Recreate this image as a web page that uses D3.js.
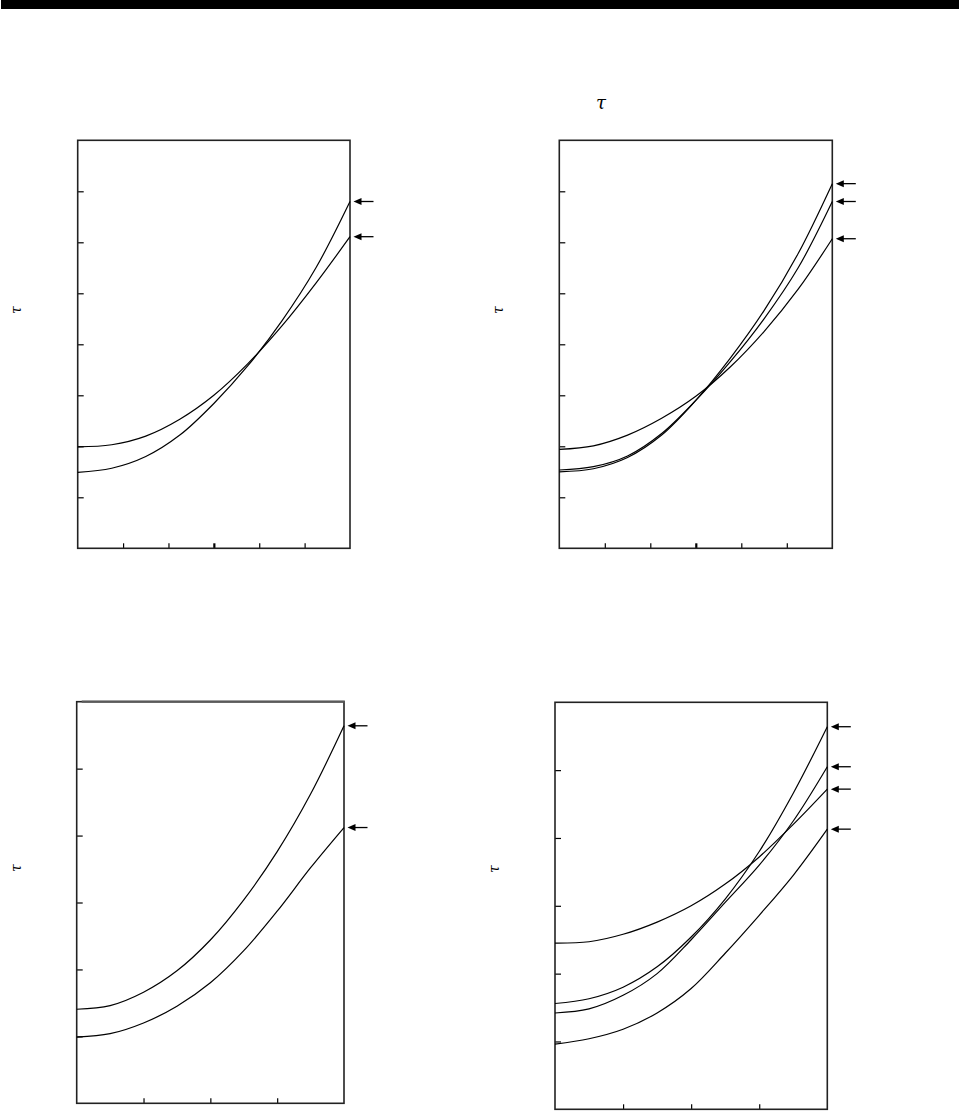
<!DOCTYPE html>
<html>
<head>
<meta charset="utf-8">
<script src="https://cdn.jsdelivr.net/npm/d3@7"></script>
<style>
  html, body { margin: 0; padding: 0; background: #fff; }
  svg { display: block; }
</style>
</head>
<body>
<svg id="chart" width="959" height="1111"></svg>
<script>
// ---------------- DATA ----------------
// Top panels: x domain 0..6, y domain 0..8
const topX = [0, 0.75, 1.5, 2.25, 3, 3.75, 4.5, 5.25, 6];
const p1A = [1.99, 2.03, 2.20, 2.53, 3.00, 3.62, 4.36, 5.20, 6.11];
const p1B = [1.49, 1.57, 1.80, 2.22, 2.84, 3.58, 4.46, 5.50, 6.80];
const p2C = [1.94, 2.01, 2.22, 2.55, 2.98, 3.55, 4.25, 5.08, 6.07];
const p2D = [1.535, 1.60, 1.81, 2.25, 2.90, 3.65, 4.50, 5.50, 6.80];
const p2E = [1.50, 1.56, 1.78, 2.22, 2.90, 3.72, 4.66, 5.78, 7.15];
// Bottom panels: x domain 0..4, y domain 0..6
const botX = [0, 0.5, 1, 1.5, 2, 2.5, 3, 3.5, 4];
const p3F = [1.405, 1.46, 1.66, 1.98, 2.44, 3.04, 3.76, 4.62, 5.64];
const p3G = [0.99, 1.04, 1.20, 1.45, 1.80, 2.28, 2.87, 3.52, 4.12];
const p4H = [2.45, 2.47, 2.58, 2.76, 3.00, 3.32, 3.72, 4.20, 4.72];
const p4I = [1.56, 1.63, 1.80, 2.10, 2.54, 3.10, 3.80, 4.66, 5.64];
const p4J = [1.42, 1.48, 1.68, 2.00, 2.50, 3.05, 3.60, 4.25, 5.05];
const p4K = [0.96, 1.04, 1.18, 1.42, 1.78, 2.30, 2.86, 3.45, 4.13];

const topXTicks = [1, 2, 3, 4, 5];
const topYTicks = [1, 2, 3, 4, 5, 6, 7];
const botXTicks = [1, 2, 3];
const botYTicks = [1, 2, 3, 4, 5];

const yLabel = "τ";
const titleLabel = "τ";

// ---------------- LAYOUT ----------------
const panels = [
  { x0: 77.7, x1: 350, y0: 140.3, y1: 548.3, xd: [0, 6], yd: [0, 8], xs: topX,
    series: [p1A, p1B], xt: topXTicks, yt: topYTicks, midTick: 3, label: [16, 310] },
  { x0: 559.3, x1: 832.3, y0: 140.3, y1: 548.3, xd: [0, 6], yd: [0, 8], xs: topX,
    series: [p2C, p2D, p2E], xt: topXTicks, yt: topYTicks, midTick: 3, label: [498, 310] },
  { x0: 76.7, x1: 344, y0: 701.7, y1: 1103.3, xd: [0, 4], yd: [0, 6], xs: botX,
    series: [p3F, p3G], xt: botXTicks, yt: botYTicks, midTick: null, label: [16, 868], grayTop: true },
  { x0: 555, x1: 827.3, y0: 702.3, y1: 1109.3, xd: [0, 4], yd: [0, 6], xs: botX,
    series: [p4H, p4I, p4J, p4K], xt: botXTicks, yt: botYTicks, midTick: null, label: [494, 869] }
];

const svg = d3.select("#chart");

// top black bar
svg.append("rect").attr("x", 1).attr("y", 0).attr("width", 958).attr("height", 9).attr("fill", "#000");

// title tau
svg.append("text")
  .attr("x", 601).attr("y", 109)
  .attr("text-anchor", "middle")
  .attr("font-family", "'DejaVu Serif', 'Liberation Serif', serif")
  .attr("font-style", "italic")
  .attr("font-size", 18)
  .text(titleLabel);

panels.forEach(p => {
  const x = d3.scaleLinear().domain(p.xd).range([p.x0, p.x1]);
  const y = d3.scaleLinear().domain(p.yd).range([p.y1, p.y0]);
  const g = svg.append("g");

  // y axis ticks (inward)
  const ya = g.append("g").attr("transform", `translate(${p.x0},0)`)
    .call(d3.axisLeft(y).tickValues(p.yt).tickSize(-6).tickFormat(""));
  ya.select(".domain").remove();
  ya.selectAll(".tick line").attr("stroke", "#000").attr("stroke-width", 1.2);

  // x axis ticks (inward)
  const xa = g.append("g").attr("transform", `translate(0,${p.y1})`)
    .call(d3.axisBottom(x).tickValues(p.xt).tickSize(-5).tickFormat(""));
  xa.select(".domain").remove();
  xa.selectAll(".tick line").attr("stroke", "#000")
    .attr("stroke-width", d => d === p.midTick ? 2.2 : 1.2);

  // frame
  g.append("rect")
    .attr("x", p.x0).attr("y", p.y0)
    .attr("width", p.x1 - p.x0).attr("height", p.y1 - p.y0)
    .attr("fill", "none").attr("stroke", "#222").attr("stroke-width", 1.6);
  if (p.grayTop) {
    g.append("line").attr("x1", p.x0 + 5).attr("x2", p.x1 + 0.8)
      .attr("y1", p.y0).attr("y2", p.y0)
      .attr("stroke", "#5a5a5a").attr("stroke-width", 2.2);
  }

  // curves
  const line = d3.line()
    .x((d, i) => x(p.xs[i]))
    .y(d => y(d))
    .curve(d3.curveCatmullRom.alpha(0.5));
  p.series.forEach(s => {
    g.append("path").attr("d", line(s))
      .attr("fill", "none").attr("stroke", "#000").attr("stroke-width", 1.2);
    // end arrow
    const ey = y(s[s.length - 1]);
    const tip = p.x1 + 3.5;
    g.append("line").attr("x1", tip + 5).attr("x2", tip + 20)
      .attr("y1", ey).attr("y2", ey).attr("stroke", "#000").attr("stroke-width", 1.3);
    g.append("path")
      .attr("d", `M${tip},${ey} L${tip + 8},${ey - 3.5} L${tip + 8},${ey + 3.5} Z`)
      .attr("fill", "#000");
  });

  // rotated y label
  g.append("text")
    .attr("transform", `translate(${p.label[0]},${p.label[1]}) rotate(-90)`)
    .attr("text-anchor", "middle")
    .attr("dominant-baseline", "central")
    .attr("font-family", "'DejaVu Serif', 'Liberation Serif', serif")
    .attr("font-style", "italic")
    .attr("font-size", 14)
    .text(yLabel);
});
</script>
</body>
</html>
